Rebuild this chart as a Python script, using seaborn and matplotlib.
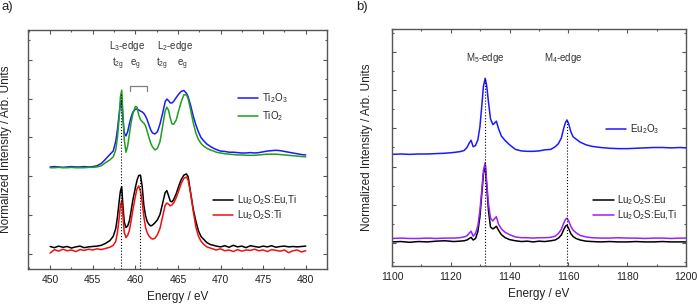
"""Ti L-edge and Eu M-edge XAS spectra, two panels."""

import matplotlib

matplotlib.use("Agg")
import matplotlib.pyplot as plt
import seaborn as sns
from matplotlib.ticker import MultipleLocator

# ---- panel a) Ti L2,3-edge --------------------------------------------------
ti_energy = [
    450.0, 450.5, 451.0, 451.5, 452.0, 452.5, 453.0, 453.5, 454.0, 454.5, 455.0, 455.5,
    456.0, 456.5, 457.0, 457.4, 457.7, 457.9, 458.1, 458.25, 458.4, 458.55, 458.7, 458.9,
    459.1, 459.3, 459.5, 459.7, 460.0, 460.2, 460.4, 460.6, 460.8, 461.0,
    461.2, 461.4, 461.6, 461.8, 462.0, 462.3, 462.6, 462.9, 463.2, 463.5,
    463.7, 463.9, 464.1, 464.3, 464.5, 464.8, 465.1, 465.4, 465.7, 466.0,
    466.2, 466.5, 466.8, 467.1, 467.4, 467.7, 468.0, 468.4, 468.8, 469.2,
    469.5, 470.0, 470.5, 471.0, 471.5, 472.0, 472.5, 473.0, 473.5, 474.0, 474.5,
    475.0, 475.5, 476.0, 476.5, 477.0, 477.5, 478.0, 478.5, 479.0, 479.5, 480.0,
]
ti2o3 = [
    2.24, 2.25, 2.24, 2.23, 2.24, 2.25, 2.24, 2.24, 2.25, 2.24, 2.25, 2.27,
    2.33, 2.44, 2.56, 2.65, 2.90, 3.20, 3.60, 3.88, 3.95, 3.45, 3.12, 3.04,
    3.15, 3.35, 3.52, 3.65, 3.73, 3.73, 3.71, 3.68, 3.66, 3.62,
    3.55, 3.45, 3.32, 3.20, 3.12, 3.09, 3.15, 3.35, 3.62, 3.92,
    3.99, 3.95, 3.89, 3.89, 3.93, 4.03, 4.12, 4.19, 4.21, 4.14,
    4.05, 3.82, 3.55, 3.33, 3.15, 3.00, 2.92, 2.83, 2.77, 2.72,
    2.69, 2.65, 2.64, 2.62, 2.62, 2.61, 2.60, 2.60, 2.61, 2.60, 2.61,
    2.63, 2.65, 2.66, 2.67, 2.66, 2.64, 2.62, 2.60, 2.58, 2.56, 2.55,
]
tio2 = [
    2.22, 2.22, 2.23, 2.22, 2.22, 2.23, 2.22, 2.22, 2.22, 2.23, 2.23, 2.24,
    2.27, 2.35, 2.42, 2.50, 2.68, 3.00, 3.50, 4.05, 4.22, 3.60, 2.95, 2.62,
    2.78, 3.08, 3.38, 3.60, 3.80, 3.78, 3.58, 3.46, 3.41, 3.37,
    3.30, 3.15, 3.00, 2.86, 2.76, 2.68, 2.72, 2.90, 3.28, 3.68,
    3.78, 3.70, 3.50, 3.35, 3.34, 3.45, 3.70, 3.93, 4.10, 4.10,
    4.00, 3.70, 3.38, 3.12, 2.95, 2.85, 2.78, 2.72, 2.68, 2.65,
    2.62, 2.60, 2.58, 2.57, 2.56, 2.55, 2.55, 2.54, 2.54, 2.54, 2.55,
    2.56, 2.57, 2.57, 2.57, 2.56, 2.55, 2.54, 2.53, 2.52, 2.51, 2.50,
]
lu_eu_ti = [
    0.19, 0.16, 0.20, 0.17, 0.19, 0.15, 0.18, 0.20, 0.16, 0.18, 0.19, 0.20,
    0.22, 0.27, 0.34, 0.45, 0.65, 0.95, 1.35, 1.62, 1.73, 1.22, 0.82, 0.68,
    0.72, 0.85, 1.10, 1.38, 1.70, 1.90, 2.02, 2.03, 1.75, 1.25,
    0.98, 0.83, 0.76, 0.72, 0.74, 0.80, 0.88, 1.02, 1.30, 1.58,
    1.63, 1.50, 1.36, 1.34, 1.40, 1.55, 1.75, 1.92, 2.03, 2.06,
    1.99, 1.56, 1.15, 0.85, 0.60, 0.45, 0.38, 0.29, 0.24, 0.22,
    0.20, 0.18, 0.21, 0.17, 0.22, 0.18, 0.20, 0.16, 0.21, 0.19, 0.17,
    0.20, 0.18, 0.21, 0.17, 0.19, 0.20, 0.18, 0.19, 0.18, 0.19, 0.20,
]
lu_ti = [
    0.02, 0.11, 0.07, 0.12, 0.08, 0.10, 0.06, 0.11, 0.09, 0.12, 0.10, 0.13,
    0.11, 0.14, 0.17, 0.22, 0.32, 0.55, 0.92, 1.25, 1.37, 0.98, 0.55, 0.42,
    0.48, 0.60, 0.85, 1.12, 1.48, 1.68, 1.75, 1.62, 1.35, 0.96,
    0.68, 0.54, 0.46, 0.41, 0.38, 0.40, 0.50, 0.66, 0.96, 1.25,
    1.31, 1.28, 1.24, 1.26, 1.31, 1.45, 1.63, 1.82, 1.95, 1.98,
    1.90, 1.55, 1.10, 0.70, 0.46, 0.33, 0.25, 0.18, 0.15, 0.12,
    0.10, 0.13, 0.08, 0.10, 0.06, 0.11, 0.07, 0.10, 0.09, 0.12, 0.08,
    0.10, 0.06, 0.11, 0.09, 0.07, 0.10, 0.03, 0.08, 0.10, 0.05, 0.08,
]
ti_edges = [458.3, 460.6]
ti_edge_tops = [4.15, 2.03]
ti_bracket_x = [459.4, 459.4, 461.4, 461.4]
ti_bracket_y = [4.20, 4.33, 4.33, 4.20]
ti_notes = ["L$_3$-edge", "t$_{2g}$", "e$_g$", "L$_2$-edge", "t$_{2g}$", "e$_g$"]
ti_notes_x = [459.0, 458.0, 460.0, 464.7, 463.1, 465.5]
ti_notes_y = [5.28, 4.83, 4.83, 5.28, 4.83, 4.83]

# ---- panel b) Eu M4,5-edge --------------------------------------------------
eu_energy = [
    1100, 1103, 1106, 1109, 1112, 1115, 1118, 1121, 1123, 1124.5, 1125.5, 1126.3,
    1126.9, 1127.6, 1128.4, 1129.2, 1129.9, 1130.5, 1131.1, 1131.7, 1132.2, 1132.8,
    1133.5, 1134.3, 1134.9, 1135.5, 1136.2, 1137.2, 1138.5, 1140, 1142, 1144,
    1146, 1148, 1150, 1152, 1154, 1155.5, 1156.6, 1157.6, 1158.4, 1159.0,
    1159.5, 1160.1, 1160.8, 1161.6, 1162.6, 1164, 1166, 1168, 1171, 1174,
    1177, 1180, 1183, 1186, 1189, 1192, 1195, 1198, 1200,
]
eu2o3 = [
    2.32, 2.33, 2.32, 2.33, 2.33, 2.34, 2.35, 2.37, 2.39, 2.42, 2.50, 2.62,
    2.69, 2.52, 2.55, 2.70, 3.04, 3.55, 4.10, 4.31, 4.12, 3.70,
    3.25, 3.10, 3.14, 3.19, 3.00, 2.80, 2.68, 2.57, 2.45, 2.41,
    2.40, 2.40, 2.41, 2.44, 2.45, 2.52, 2.60, 2.75, 3.00, 3.15,
    3.22, 3.12, 2.92, 2.78, 2.72, 2.64, 2.57, 2.53, 2.50, 2.48,
    2.47, 2.47, 2.48, 2.49, 2.50, 2.50, 2.49, 2.50, 2.49,
]
lu_eu = [
    0.03, 0.04, 0.02, 0.04, 0.03, 0.05, 0.06, 0.04, 0.05, 0.06, 0.08, 0.12,
    0.15, 0.08, 0.12, 0.30, 0.69, 1.25, 1.80, 2.06, 1.50, 0.86,
    0.42, 0.37, 0.40, 0.44, 0.34, 0.22, 0.14, 0.09, 0.06, 0.04,
    0.05, 0.03, 0.05, 0.04, 0.06, 0.08, 0.13, 0.21, 0.35, 0.44,
    0.47, 0.38, 0.25, 0.17, 0.12, 0.08, 0.05, 0.04, 0.03, 0.04,
    0.03, 0.03, 0.04, 0.03, 0.03, 0.04, 0.03, 0.03, 0.03,
]
lu_eu_ti_m = [
    0.12, 0.13, 0.12, 0.12, 0.13, 0.12, 0.13, 0.13, 0.14, 0.16, 0.19, 0.26,
    0.31, 0.18, 0.25, 0.45, 0.86, 1.35, 1.90, 2.10, 1.60, 1.04,
    0.65, 0.58, 0.64, 0.69, 0.50, 0.37, 0.28, 0.22, 0.16, 0.14,
    0.14, 0.13, 0.14, 0.14, 0.15, 0.18, 0.25, 0.36, 0.52, 0.62,
    0.65, 0.58, 0.44, 0.34, 0.27, 0.20, 0.16, 0.14, 0.13, 0.13,
    0.14, 0.13, 0.13, 0.12, 0.13, 0.13, 0.12, 0.13, 0.13,
]
eu_edges = [1131.7, 1159.5]
eu_edge_tops = [4.30, 3.21]
eu_notes = ["M$_5$-edge", "M$_4$-edge"]
eu_notes_x = [1131.7, 1158.3]
eu_notes_y = [4.75, 4.75]

BLUE = "#1a1aff"
GREEN = "#1f9e1f"
RED = "#f01010"
PURPLE = "#9b1fff"
FRAME = "#555555"

sns.set_theme(style="ticks")
plt.rcParams["font.family"] = ["Liberation Sans", "DejaVu Sans"]
plt.rcParams["mathtext.default"] = "regular"

fig = plt.figure(figsize=(6.97, 3.05), dpi=100)
ax_a = fig.add_axes([28 / 697, 36 / 305, 299 / 697, 239 / 305])
ax_b = fig.add_axes([392 / 697, 39 / 305, 294 / 697, 237 / 305])


def draw(ax, x, y, color, label):
    sns.lineplot(x=x, y=y, ax=ax, color=color, lw=1.1, label=label,
                 sort=False, estimator=None)


def style_axes(ax, xmajor, xminor, xlim, ylim, label_x):
    ax.set_xlim(*xlim)
    ax.set_ylim(*ylim)
    ax.xaxis.set_major_locator(MultipleLocator(xmajor))
    ax.xaxis.set_minor_locator(MultipleLocator(xminor))
    ax.yaxis.set_major_locator(MultipleLocator(1))
    ax.yaxis.set_minor_locator(MultipleLocator(0.5))
    ax.tick_params(which="both", direction="in", top=True, right=True,
                   labelleft=False, color=FRAME, width=0.8)
    ax.tick_params(which="major", length=3)
    ax.tick_params(which="minor", length=1.5)
    ax.tick_params(axis="x", labelsize=7.5, pad=4.5, labelcolor="#222222")
    for sp in ax.spines.values():
        sp.set_color(FRAME)
        sp.set_linewidth(1.0)
    ax.set_xlabel("Energy / eV", fontsize=8.5, color="#222222")
    ax.set_ylabel("Normalized Intensity / Arb. Units", fontsize=8.5, color="#222222")
    ax.yaxis.set_label_coords(label_x, 0.5)


def add_legend(ax, handles, labels, x, y, spacing):
    return ax.legend(handles, labels, loc="center left", bbox_to_anchor=(x, y),
                     frameon=False, fontsize=7, handlelength=2.1,
                     handletextpad=0.35, borderpad=0, borderaxespad=0,
                     labelspacing=spacing)


# panel a
draw(ax_a, ti_energy, ti2o3, BLUE, "Ti$_2$O$_3$")
draw(ax_a, ti_energy, tio2, GREEN, "TiO$_2$")
draw(ax_a, ti_energy, lu_eu_ti, "black", "Lu$_2$O$_2$S:Eu,Ti")
draw(ax_a, ti_energy, lu_ti, RED, "Lu$_2$O$_2$S:Ti")
style_axes(ax_a, 5, 2.5, (447.4, 482.5), (-0.39, 5.77), -0.052)
ax_a.vlines(ti_edges, -0.39, ti_edge_tops, colors="black", linestyles=":", lw=0.8)
ax_a.plot(ti_bracket_x, ti_bracket_y, color="#808080", lw=0.9)
for t, x, y in zip(ti_notes, ti_notes_x, ti_notes_y):
    ax_a.text(x, y, t, ha="center", va="baseline", fontsize=7, color="#333333")
h, l = ax_a.get_legend_handles_labels()
leg = add_legend(ax_a, h[:2], l[:2], 0.702, 0.678, 0.45)
ax_a.add_artist(leg)
add_legend(ax_a, h[2:], l[2:], 0.619, 0.255, 0.15)

# panel b
draw(ax_b, eu_energy, eu2o3, BLUE, "Eu$_2$O$_3$")
draw(ax_b, eu_energy, lu_eu, "black", "Lu$_2$O$_2$S:Eu")
draw(ax_b, eu_energy, lu_eu_ti_m, PURPLE, "Lu$_2$O$_2$S:Eu,Ti")
style_axes(ax_b, 20, 10, (1100, 1200), (-0.6, 5.6), -0.065)
ax_b.vlines(eu_edges, -0.6, eu_edge_tops, colors="black", linestyles=":", lw=0.8)
for t, x, y in zip(eu_notes, eu_notes_x, eu_notes_y):
    ax_b.text(x, y, t, ha="center", va="baseline", fontsize=7, color="#333333")
h, l = ax_b.get_legend_handles_labels()
leg = add_legend(ax_b, h[:1], l[:1], 0.728, 0.578, 0.3)
ax_b.add_artist(leg)
add_legend(ax_b, h[1:], l[1:], 0.684, 0.245, 0.15)

fig.text(2 / 697, 1 - 1 / 305, "a)", ha="left", va="top", fontsize=9.5, color="#222222")
fig.text(356 / 697, 1 - 1 / 305, "b)", ha="left", va="top", fontsize=9.5, color="#222222")

fig.savefig("out.png", dpi=100)
